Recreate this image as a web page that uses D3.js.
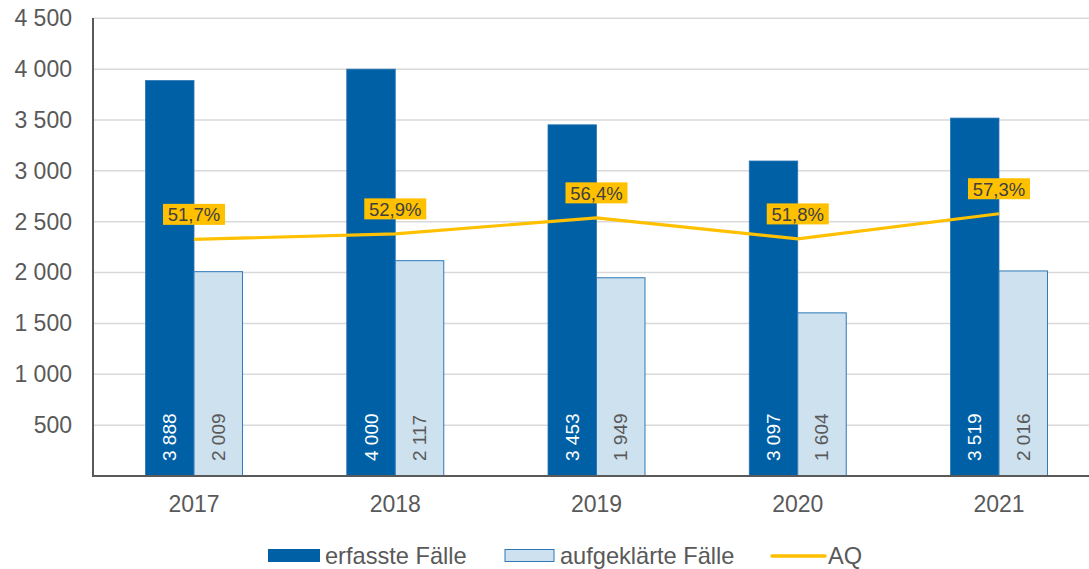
<!DOCTYPE html>
<html><head><meta charset="utf-8">
<script src="https://cdn.jsdelivr.net/npm/d3@7"></script>
<style>
body{margin:0;background:#fff;}
svg{display:block;font-family:"Liberation Sans",Arial,sans-serif;}
</style></head>
<body><svg id="c" width="1089" height="569"></svg>
<script>
const years = ["2017","2018","2019","2020","2021"];
const erfasst = [3888, 4000, 3453, 3097, 3519];
const aufgeklaert = [2009, 2117, 1949, 1604, 2016];
const aq = [51.7, 52.9, 56.4, 51.8, 57.3];
const yTicks = [500,1000,1500,2000,2500,3000,3500,4000,4500];
const seriesNames = ["erfasste Fälle","aufgeklärte Fälle","AQ"];

const svg = d3.select("#c");
const x = d3.scaleBand().domain(years).range([93.4, 1099.6]).paddingInner(0).paddingOuter(0);
const y = d3.scaleLinear().domain([0,4500]).range([476, 18.3]);
const y2 = d3.scaleLinear().domain([0,100]).range([476, 18.3]);
const barW = 48.5;
const fmt = v => d3.format(",")(v).replace(/,/g, " ");
const fmtPct = v => v.toFixed(1).replace(".", ",") + "%";

// gridlines
svg.append("g").selectAll("line").data(yTicks).join("line")
  .attr("x1", 93).attr("x2", 1089)
  .attr("y1", d => y(d)).attr("y2", d => y(d))
  .attr("stroke", "#d9d9d9").attr("stroke-width", 1.5);

// y axis
const yAxis = d3.axisLeft(y).tickValues(yTicks).tickFormat(fmt).tickSize(0).tickPadding(21);
const gy = svg.append("g").attr("transform", "translate(93,0)").call(yAxis);
gy.select(".domain").remove();
gy.selectAll("text").attr("fill", "#595959").style("font-size", "23px").style("font-family", "Liberation Sans, Arial, sans-serif");

// bars
const cx = d => x(d) + x.bandwidth()/2;
svg.append("g").selectAll("rect").data(years).join("rect")
  .attr("x", d => cx(d) - barW).attr("width", barW)
  .attr("y", (d,i) => y(erfasst[i])).attr("height", (d,i) => y(0) - y(erfasst[i]))
  .attr("fill", "#0060a6").attr("stroke", "#2a74b4").attr("stroke-width", 0.8);
svg.append("g").selectAll("rect").data(years).join("rect")
  .attr("x", d => cx(d)).attr("width", barW)
  .attr("y", (d,i) => y(aufgeklaert[i])).attr("height", (d,i) => y(0) - y(aufgeklaert[i]))
  .attr("fill", "#cde1ef").attr("stroke", "#2f78b8").attr("stroke-width", 1);

// bar labels
svg.append("g").selectAll("text").data(years).join("text")
  .attr("transform", d => `translate(${cx(d) - barW/2},461) rotate(-90)`)
  .attr("dominant-baseline", "central").attr("fill", "#ffffff").style("font-size", "19px")
  .text((d,i) => fmt(erfasst[i]));
svg.append("g").selectAll("text").data(years).join("text")
  .attr("transform", d => `translate(${cx(d) + barW/2},461) rotate(-90)`)
  .attr("dominant-baseline", "central").attr("fill", "#595959").style("font-size", "19px")
  .text((d,i) => fmt(aufgeklaert[i]));

// axes lines
svg.append("line").attr("x1", 93).attr("x2", 93).attr("y1", 18).attr("y2", 477)
  .attr("stroke", "#595959").attr("stroke-width", 2);
const xAxis = d3.axisBottom(x).tickSize(0).tickPadding(20);
const gx = svg.append("g").attr("transform", "translate(0,476)").call(xAxis);
gx.select(".domain").attr("d", "M93,0H1089").attr("stroke", "#595959").attr("stroke-width", 2);
gx.selectAll("text").attr("fill", "#595959").style("font-size", "23px").style("font-family", "Liberation Sans, Arial, sans-serif");

// AQ line
const line = d3.line().x((d,i) => cx(years[i])).y(d => y2(d));
svg.append("path").datum(aq).attr("d", line).attr("fill", "none")
  .attr("stroke", "#ffc000").attr("stroke-width", 3.2);

// AQ labels
const lab = svg.append("g").selectAll("g").data(aq).join("g")
  .attr("transform", (d,i) => `translate(${cx(years[i])},${y2(d) - 25})`);
lab.append("rect").attr("x", -31).attr("y", -10.5).attr("width", 62).attr("height", 21).attr("fill", "#ffc000");
lab.append("text").attr("text-anchor", "middle").attr("dominant-baseline", "central").attr("y", 0.5)
  .attr("fill", "#404040").style("font-size", "18.5px").text(d => fmtPct(d));

// legend
const lg = svg.append("g");
lg.append("rect").attr("x", 268).attr("y", 549).attr("width", 52).attr("height", 13).attr("fill", "#0060a6");
lg.append("text").attr("x", 325).attr("y", 556).attr("dominant-baseline", "central").attr("fill", "#595959").style("font-size", "23.6px").text(seriesNames[0]);
lg.append("rect").attr("x", 505).attr("y", 549.5).attr("width", 49).attr("height", 12).attr("fill", "#cde1ef").attr("stroke", "#2f78b8").attr("stroke-width", 1);
lg.append("text").attr("x", 560).attr("y", 556).attr("dominant-baseline", "central").attr("fill", "#595959").style("font-size", "23.6px").text(seriesNames[1]);
lg.append("line").attr("x1", 772).attr("x2", 825).attr("y1", 556).attr("y2", 556).attr("stroke", "#ffc000").attr("stroke-width", 3.5).attr("stroke-linecap", "round");
lg.append("text").attr("x", 828).attr("y", 556).attr("dominant-baseline", "central").attr("fill", "#595959").style("font-size", "23.6px").text(seriesNames[2]);
</script></body></html>
